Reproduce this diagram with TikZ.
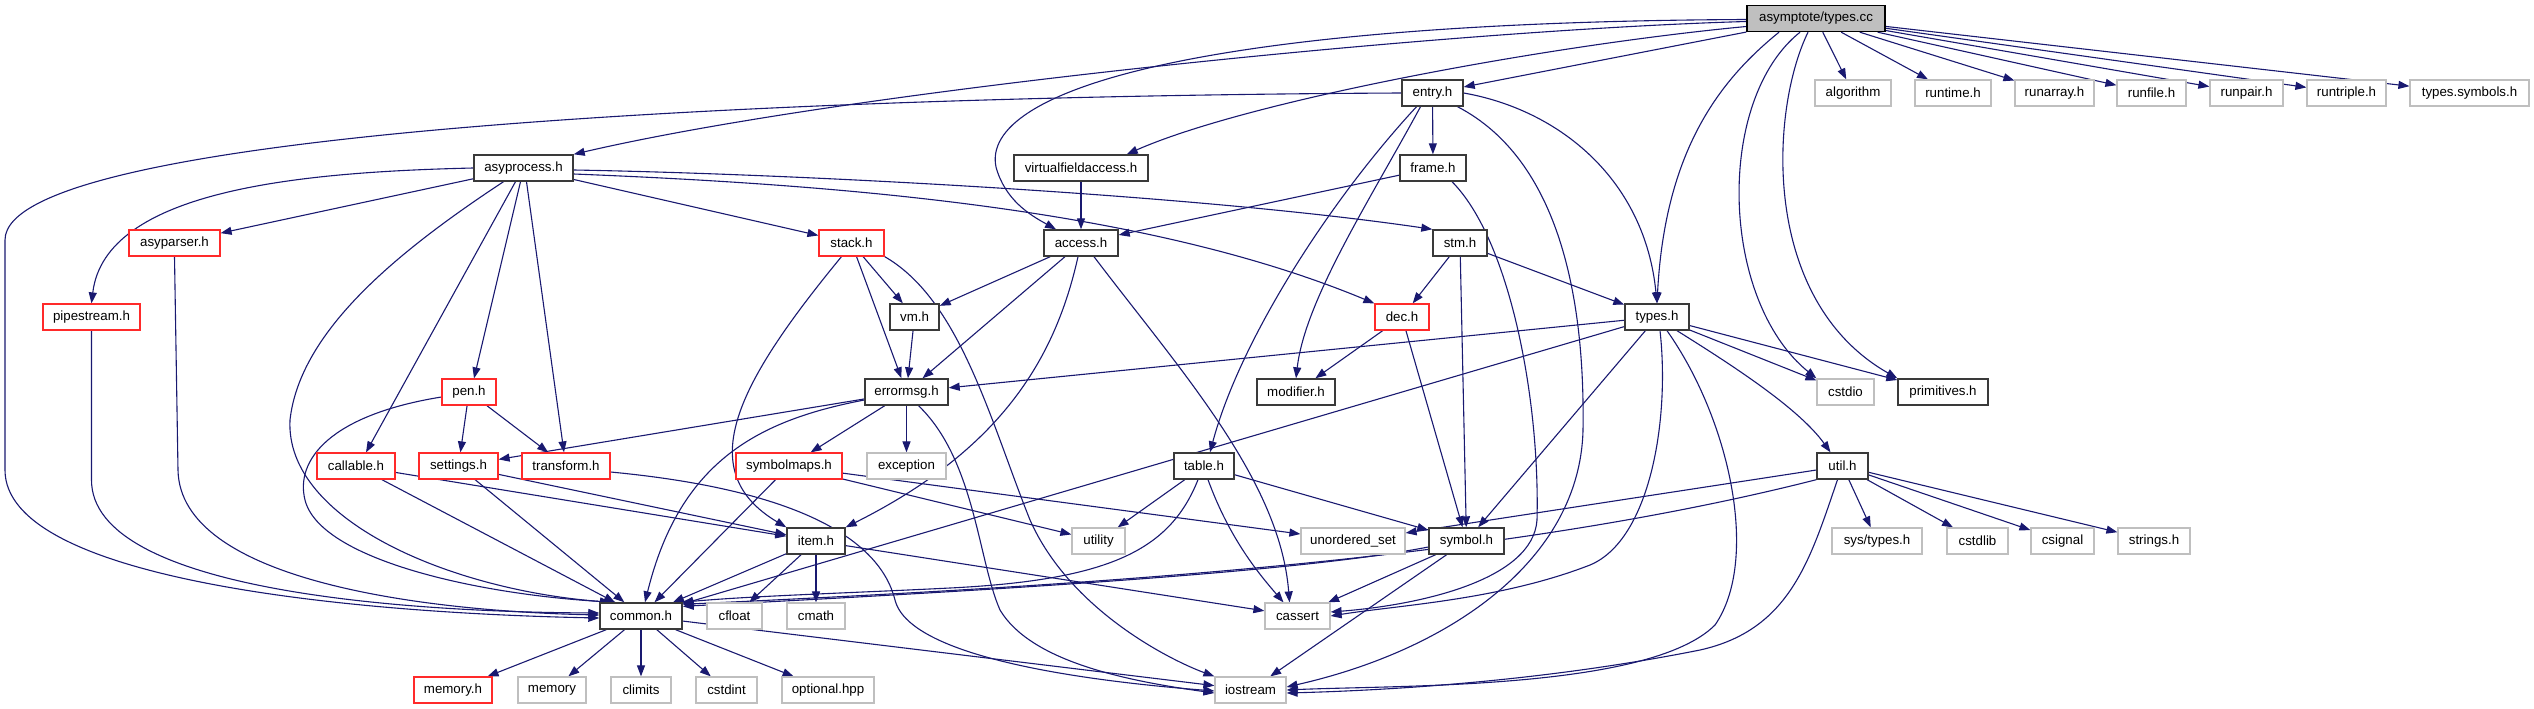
\documentclass[tikz,border=0pt]{standalone}
\usepackage{fontspec}
\setmainfont{Liberation Sans}
\usetikzlibrary{arrows.meta,backgrounds}
\definecolor{edgec}{HTML}{191970}
\definecolor{greyc}{HTML}{BFBFBF}
\definecolor{bkc}{HTML}{3A3A3A}
\definecolor{redc}{HTML}{FF2A2A}
\newcommand{\nodefs}{\fontsize{13.3pt}{15pt}\selectfont}
\begin{document}
\begin{tikzpicture}[x=1pt,y=-1pt,
  base/.style={rectangle, inner sep=0pt, minimum height=26pt, fill=white, text=black, font=\nodefs},
  nb/.style={base, draw=bkc, line width=1.4pt},
  nr/.style={base, draw=redc, line width=1.2pt},
  ng/.style={base, draw=greyc, line width=1.2pt},
  nroot/.style={base, draw=black, fill=greyc, line width=1.4pt},
  e/.style={draw=edgec, line width=1.1pt, -{Triangle[length=11pt,width=8pt]}}]
\useasboundingbox (0,0) rectangle (2534,709);
% row 0
\node[nroot, minimum width=138pt] (typescc) at (1816,18.5) {asymptote/types.cc};
% row 1
\node[nb, minimum width=61pt] (entry) at (1432.5,93) {entry.h};
\node[ng, minimum width=76pt] (algorithm) at (1853,93) {algorithm};
\node[ng, minimum width=76pt] (runtime) at (1953,93) {runtime.h};
\node[ng, minimum width=79pt] (runarray) at (2054.5,93) {runarray.h};
\node[ng, minimum width=69pt] (runfile) at (2151.5,93) {runfile.h};
\node[ng, minimum width=73pt] (runpair) at (2246.5,93) {runpair.h};
\node[ng, minimum width=79pt] (runtriple) at (2346.5,93) {runtriple.h};
\node[ng, minimum width=119pt] (typessymbols) at (2469.5,93) {types.symbols.h};
% row 2
\node[nb, minimum width=99pt] (asyprocess) at (523.5,168) {asyprocess.h};
\node[nb, minimum width=134pt] (vfa) at (1081,168) {virtualfieldaccess.h};
\node[nb, minimum width=66pt] (frame) at (1433,168) {frame.h};
% row 3
\node[nr, minimum width=91pt] (asyparser) at (174.5,243) {asyparser.h};
\node[nr, minimum width=65pt] (stack) at (851.5,243) {stack.h};
\node[nb, minimum width=74pt] (access) at (1081,243) {access.h};
\node[nb, minimum width=54pt] (stm) at (1460,243) {stm.h};
% row 4
\node[nr, minimum width=97pt] (pipestream) at (91.5,317) {pipestream.h};
\node[nb, minimum width=49pt] (vm) at (914.5,317) {vm.h};
\node[nr, minimum width=54pt] (dec) at (1402,317) {dec.h};
\node[nb, minimum width=64pt] (typesh) at (1657,317) {types.h};
% row 5
\node[nr, minimum width=54pt] (pen) at (469,392) {pen.h};
\node[nb, minimum width=83pt] (errormsg) at (906.5,392) {errormsg.h};
\node[nb, minimum width=78pt] (modifier) at (1296,392) {modifier.h};
\node[ng, minimum width=57pt] (cstdio) at (1845.5,392) {cstdio};
\node[nb, minimum width=90pt] (primitives) at (1943,392) {primitives.h};
% row 6
\node[nr, minimum width=78pt] (callable) at (356,466) {callable.h};
\node[nr, minimum width=79pt] (settings) at (458.5,466) {settings.h};
\node[nr, minimum width=88pt] (transform) at (566,466) {transform.h};
\node[nr, minimum width=106pt] (symbolmaps) at (789,466) {symbolmaps.h};
\node[ng, minimum width=79pt] (exception) at (906.5,466) {exception};
\node[nb, minimum width=60pt] (table) at (1204,466) {table.h};
\node[nb, minimum width=51pt] (util) at (1842.5,466) {util.h};
% row 7
\node[nb, minimum width=58pt] (item) at (816,541) {item.h};
\node[ng, minimum width=53pt] (utility) at (1098.5,541) {utility};
\node[ng, minimum width=104pt] (unordered) at (1353,541) {unordered\_set};
\node[nb, minimum width=75pt] (symbol) at (1466.5,541) {symbol.h};
\node[ng, minimum width=90pt] (systypes) at (1877,541) {sys/types.h};
\node[ng, minimum width=61pt] (cstdlib) at (1977.5,541) {cstdlib};
\node[ng, minimum width=63pt] (csignal) at (2062.5,541) {csignal};
\node[ng, minimum width=72pt] (strings) at (2154,541) {strings.h};
% row 8
\node[nb, minimum width=82pt] (common) at (641,616) {common.h};
\node[ng, minimum width=55pt] (cfloat) at (734.5,616) {cfloat};
\node[ng, minimum width=58pt] (cmath) at (816,616) {cmath};
\node[ng, minimum width=65pt] (cassert) at (1297.5,616) {cassert};
% row 9
\node[nr, minimum width=78pt] (memoryh) at (453,690) {memory.h};
\node[ng, minimum width=68pt] (memory) at (552,690) {memory};
\node[ng, minimum width=60pt] (climits) at (641,690) {climits};
\node[ng, minimum width=61pt] (cstdint) at (726.5,690) {cstdint};
\node[ng, minimum width=92pt] (optional) at (828,690) {optional.hpp};
\node[ng, minimum width=71pt] (iostream) at (1250.5,690) {iostream};

\begin{pgfonlayer}{background}
% ---- edges from types.cc
\draw[e] ([yshift=-3pt]typescc.west) .. controls (1450,30) and (850,90) .. (asyprocess.north east);
\draw[e] ([yshift=-1pt]typescc.west) .. controls (1200,22) and (980,90) .. (996,167) .. controls (1005,200) and (1030,215) .. ([xshift=-25pt]access.north);
\draw[e] ([yshift=-8pt]typescc.west) .. controls (1550,45) and (1250,100) .. ([xshift=-22pt]vfa.north east);
\draw[e] (typescc) -- (entry);
\draw[e] ([xshift=-37pt]typescc.south) .. controls (1720,80) and (1665,150) .. (typesh.north);
\draw[e] ([xshift=-16pt]typescc.south) .. controls (1715,100) and (1720,300) .. (cstdio.north west);
\draw[e] ([xshift=-8pt]typescc.south) .. controls (1770,110) and (1760,300) .. (primitives.north west);
\draw[e] (typescc) -- (algorithm);
\draw[e] (typescc) -- (runtime);
\draw[e] (typescc) -- (runarray);
\draw[e] (typescc) -- (runfile);
\draw[e] (typescc) -- (runpair);
\draw[e] (typescc) -- (runtriple);
\draw[e] (typescc) -- (typessymbols);
% ---- entry.h
\draw[e] (entry) -- (frame);
\draw[e] (entry.west) .. controls (800,96) and (5,130) .. (5,240) -- (5,470) .. controls (5,580) and (350,613) .. ([yshift=-2pt]common.west);
\draw[e] ([xshift=-16pt]entry.south) .. controls (1330,200) and (1240,340) .. ([xshift=6pt]table.north);
\draw[e] ([xshift=-12pt]entry.south) .. controls (1370,200) and (1305,300) .. (modifier.north);
\draw[e] (entry.east) .. controls (1560,110) and (1645,180) .. (typesh.north);
\draw[e] ([xshift=25pt]entry.south) .. controls (1560,160) and (1585,300) .. (1583,430) .. controls (1580,560) and (1450,650) .. ([yshift=3pt]iostream.east);
% ---- asyprocess.h
\draw[e] (asyprocess.west) .. controls (300,172) and (105,190) .. (pipestream.north);
\draw[e] (asyprocess) -- (asyparser);
\draw[e] (asyprocess) -- (stack);
\draw[e] ([yshift=-2pt]asyprocess.east) .. controls (800,174) and (1200,195) .. (stm.north west);
\draw[e] ([yshift=-6pt]asyprocess.east) .. controls (850,185) and (1150,210) .. (dec.north west);
\draw[e] ([xshift=-8pt]asyprocess.south) -- ([xshift=10pt]callable.north);
\draw[e] ([xshift=-3pt]asyprocess.south) -- ([xshift=5pt]pen.north);
\draw[e] ([xshift=3pt]asyprocess.south) -- ([xshift=-2pt]transform.north);
\draw[e] ([xshift=-20pt]asyprocess.south) .. controls (400,250) and (300,330) .. (290,420) .. controls (285,520) and (450,590) .. ([xshift=-30pt]common.north);
% ---- virtualfieldaccess.h, frame.h
\draw[e] (vfa) -- (access);
\draw[e] (frame) -- (access);
\draw[e] ([xshift=19pt]frame.south) .. controls (1510,240) and (1540,400) .. (1537,520) .. controls (1533,580) and (1420,605) .. ([yshift=4pt]cassert.east);
% ---- stack.h
\draw[e] (stack) -- (vm);
\draw[e] (stack) -- (errormsg);
\draw[e] ([xshift=-10pt]stack.south) .. controls (740,380) and (690,470) .. (item.north west);
\draw[e] (stack.south east) .. controls (960,300) and (990,420) .. (1030,520) .. controls (1070,610) and (1170,660) .. (iostream.north west);
% ---- access.h
\draw[e] (access) -- (vm);
\draw[e] (access) -- (errormsg);
\draw[e] ([xshift=-3pt]access.south) .. controls (1055,360) and (1000,450) .. (item.north east);
\draw[e] ([xshift=13pt]access.south) .. controls (1180,370) and (1280,480) .. ([xshift=-8pt]cassert.north);
% ---- stm.h, dec.h
\draw[e] (stm) -- (dec);
\draw[e] (stm) -- (typesh);
\draw[e] (stm) -- (symbol);
\draw[e] (dec) -- (modifier);
\draw[e] (dec) -- (symbol);
% ---- types.h
\draw[e] (typesh) -- (errormsg);
\draw[e] (typesh) -- (common);
\draw[e] (typesh) -- (symbol);
\draw[e] ([xshift=3pt]typesh.south) .. controls (1670,420) and (1650,540) .. (1590,565) .. controls (1500,600) and (1400,605) .. (cassert.east);
\draw[e] ([xshift=10pt]typesh.south) .. controls (1730,420) and (1760,560) .. (1715,625) .. controls (1650,690) and (1400,685) .. (iostream.east);
\draw[e] ([xshift=20pt]typesh.south) .. controls (1740,370) and (1800,410) .. ([xshift=-12pt]util.north);
\draw[e] (typesh) -- (cstdio);
\draw[e] (typesh) -- (primitives);
% ---- vm.h
\draw[e] (vm) -- (errormsg);
% ---- errormsg.h
\draw[e] (errormsg) -- (settings);
\draw[e] (errormsg) -- (symbolmaps);
\draw[e] (errormsg) -- (exception);
\draw[e] ([yshift=-8pt]errormsg.west) .. controls (760,420) and (680,460) .. ([xshift=4pt]common.north);
\draw[e] ([xshift=12pt]errormsg.south) .. controls (975,460) and (978,560) .. (1000,610) .. controls (1030,660) and (1120,680) .. ([yshift=-3pt]iostream.west);
% ---- pen.h
\draw[e] (pen) -- (settings);
\draw[e] (pen) -- (transform);
\draw[e] ([yshift=-5pt]pen.west) .. controls (330,415) and (295,460) .. (305,500) .. controls (320,560) and (480,595) .. ([xshift=-25pt]common.north);
% ---- pipestream.h, asyparser.h
\draw[e] (pipestream.south) -- (91.5,480) .. controls (91.5,590) and (400,612) .. ([yshift=3pt]common.west);
\draw[e] (asyparser.south) -- (178,470) .. controls (180,580) and (420,611) .. ([yshift=1pt]common.west);
% ---- row 6
\draw[e] (callable) -- (common);
\draw[e] (callable) -- (item);
\draw[e] (settings) -- (common);
\draw[e] (settings) -- (item);
\draw[e] ([yshift=-6pt]transform.east) .. controls (800,490) and (880,540) .. (895,600) .. controls (910,660) and (1100,682) .. ([yshift=-1pt]iostream.west);
\draw[e] (symbolmaps) -- (common);
\draw[e] (symbolmaps) -- (utility);
\draw[e] (symbolmaps) -- (unordered);
\draw[e] (table) -- (utility);
\draw[e] (table) -- (symbol);
\draw[e] ([xshift=4pt]table.south) .. controls (1230,540) and (1260,575) .. ([xshift=-14pt]cassert.north);
\draw[e] ([xshift=-6pt]table.south) .. controls (1170,550) and (1110,580) .. (950,588) .. controls (850,593) and (750,596) .. ([xshift=-1pt]common.north east);
\draw[e] (util) -- (unordered);
\draw[e] (util.south west) .. controls (1500,560) and (1100,585) .. ([yshift=-2pt]common.north east);
\draw[e] (util) -- (systypes);
\draw[e] (util) -- (cstdlib);
\draw[e] (util) -- (csignal);
\draw[e] (util) -- (strings);
\draw[e] ([xshift=-5pt]util.south) .. controls (1810,560) and (1790,630) .. (1700,650) .. controls (1550,680) and (1400,690) .. ([yshift=-3pt]iostream.east);
% ---- row 7
\draw[e] (item) -- (common);
\draw[e] (item) -- (cfloat);
\draw[e] (item) -- (cmath);
\draw[e] (item) -- (cassert);
\draw[e] ([yshift=-6pt]symbol.west) .. controls (1300,572) and (1000,590) .. ([yshift=-4pt]common.north east);
\draw[e] (symbol) -- (cassert);
\draw[e] (symbol) -- (iostream);
% ---- common.h
\draw[e] (common) -- (memoryh);
\draw[e] (common) -- (memory);
\draw[e] (common) -- (climits);
\draw[e] (common) -- (cstdint);
\draw[e] (common) -- (optional);
\draw[e] (common) -- (iostream);
\end{pgfonlayer}
\end{tikzpicture}
\end{document}
